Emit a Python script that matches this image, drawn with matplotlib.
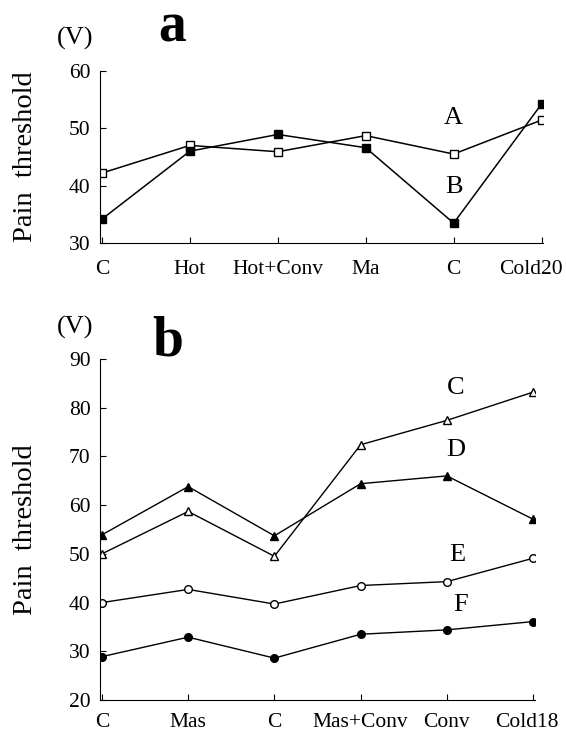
import matplotlib.pyplot as plt
import matplotlib.transforms as mtransforms
plt.rcParams.update({'font.family': 'Liberation Serif', 'font.size': 15.5})
plt.rcParams['axes.facecolor'] = 'w'
plt.rcParams['savefig.facecolor'] = 'w'

# panel a
labels_a = ["C", "Hot", "Hot+Conv", "Ma", "C", "Cold20"]
series_A = [42.2, 47.0, 45.9, 48.7, 45.5, 51.4]
series_B = [34.2, 46.0, 48.9, 46.6, 33.5, 54.2]

# panel b
labels_b = ["C", "Mas", "C", "Mas+Conv", "Conv", "Cold18"]
series_C = [50.0, 58.7, 49.5, 72.4, 77.4, 83.2]
series_D = [53.9, 63.8, 53.7, 64.4, 66.0, 57.1]
series_E = [40.0, 42.7, 39.7, 43.5, 44.3, 49.1]
series_F = [28.9, 32.9, 28.6, 33.5, 34.4, 36.1]

fig = plt.figure(figsize=(5.66, 7.35), dpi=100)

def style(ax, labels, xpad):
    ax.spines['top'].set_visible(False)
    ax.spines['right'].set_visible(False)
    ax.set_xticks(range(len(labels)))
    ax.set_xticklabels(labels)
    ax.tick_params(direction='in', length=4, width=0.8)
    ax.tick_params(axis='x', pad=xpad)
    ax.tick_params(axis='y', pad=7)
    ax.set_xlim(-0.02, len(labels) - 1 + 0.02)

x = range(6)
ax = fig.add_axes([0.177, 0.669, 0.783, 0.235])
ax.plot(x, series_A, 'k-', marker='s', mfc='w', ms=6, lw=1.1)
ax.plot(x, series_B, 'k-', marker='s', mfc='k', ms=6, lw=1.1)
ax.set_ylim(30, 60)
ax.set_yticks([30, 40, 50, 60])
style(ax, labels_a, 12)
# last label sits a bit left of its tick
last = ax.get_xticklabels()[-1]
last.set_transform(last.get_transform() + mtransforms.ScaledTranslation(-0.11, 0, fig.dpi_scale_trans))
ax.text(4.0, 51.7, "A", fontsize=19, ha='center', va='center')
ax.text(4.0, 39.7, "B", fontsize=19, ha='center', va='center')
ax.set_ylabel("Pain  threshold", fontsize=20.5, labelpad=22)

ax2 = fig.add_axes([0.177, 0.0476, 0.768, 0.464])
ax2.plot(x, series_C, 'k-', marker='^', mfc='w', ms=6, lw=1.0)
ax2.plot(x, series_D, 'k-', marker='^', mfc='k', ms=6, lw=1.0)
ax2.plot(x, series_E, 'k-', marker='o', mfc='w', ms=5.5, lw=1.0)
ax2.plot(x, series_F, 'k-', marker='o', mfc='k', ms=5.5, lw=1.0)
ax2.set_ylim(20, 90)
ax2.set_yticks(range(20, 91, 10))
style(ax2, labels_b, 9)
last = ax2.get_xticklabels()[-1]
last.set_transform(last.get_transform() + mtransforms.ScaledTranslation(-0.06, 0, fig.dpi_scale_trans))
ax2.text(4.1, 84.0, "C", fontsize=19, ha='center', va='center')
ax2.text(4.1, 71.4, "D", fontsize=19, ha='center', va='center')
ax2.text(4.12, 49.8, "E", fontsize=19, ha='center', va='center')
ax2.text(4.16, 39.5, "F", fontsize=19, ha='center', va='center')
ax2.set_ylabel("Pain  threshold", fontsize=20.5, labelpad=22)

fig.text(75 / 566, 1 - 38 / 735, "(V)", fontsize=19, ha='center', va='center')
fig.text(172 / 566, 1 - 27 / 735, "a", fontsize=40, fontweight='bold', ha='center', va='center')
fig.text(75 / 566, 1 - 327 / 735, "(V)", fontsize=19, ha='center', va='center')
fig.text(168 / 566, 1 - 342 / 735, "b", fontsize=40, fontweight='bold', ha='center', va='center')

fig.savefig("out.png", dpi=100)
